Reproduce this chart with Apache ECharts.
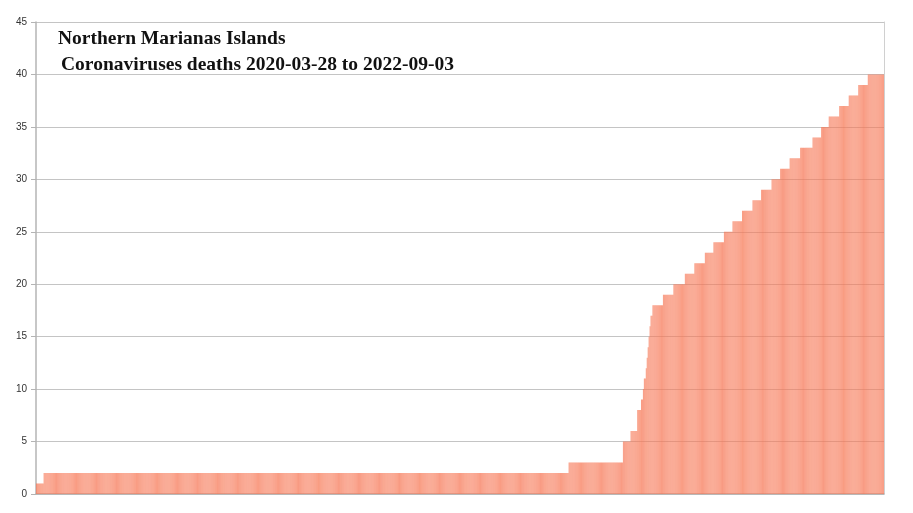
<!DOCTYPE html>
<html>
<head>
<meta charset="utf-8">
<script src="https://cdn.jsdelivr.net/npm/echarts@6/dist/echarts.min.js"></script>
<style>html,body{margin:0;padding:0;background:#fff}#c{width:913px;height:513px}</style>
</head>
<body>
<div id="c"></div>
<script>
// Cumulative deaths: date on which the running total changed, and the new total
const startDate = '2020-03-28';
const endDate = '2022-09-03';
const changeDates = ['2020-03-28','2020-04-05','2021-10-08','2021-12-04','2021-12-12','2021-12-19','2021-12-23','2021-12-25','2021-12-26','2021-12-28','2021-12-29','2021-12-30','2021-12-31','2022-01-01','2022-01-02','2022-01-04','2022-01-15','2022-01-26','2022-02-07','2022-02-17','2022-02-28','2022-03-09','2022-03-20','2022-03-29','2022-04-08','2022-04-19','2022-04-28','2022-05-09','2022-05-18','2022-05-28','2022-06-08','2022-06-21','2022-06-30','2022-07-08','2022-07-19','2022-07-29','2022-08-08','2022-08-18'];
const changeValues = [1,2,3,5,6,8,9,10,11,12,13,14,15,16,17,18,19,20,21,22,23,24,25,26,27,28,29,30,31,32,33,34,35,36,37,38,39,40];
const yTicks = [0,5,10,15,20,25,30,35,40,45];
const titleLines = ['Northern Marianas Islands', 'Coronaviruses deaths 2020-03-28 to 2022-09-03'];

// expand the run-length list into one bar per day
const categories = [];
const values = [];
{
  const d = new Date(startDate + 'T00:00:00Z');
  const end = new Date(endDate + 'T00:00:00Z');
  let k = 0, cur = 0;
  while (d <= end) {
    const s = d.toISOString().slice(0, 10);
    while (k < changeDates.length && changeDates[k] <= s) { cur = changeValues[k]; k++; }
    categories.push(s);
    values.push(cur);
    d.setUTCDate(d.getUTCDate() + 1);
  }
}

const chart = echarts.init(document.getElementById('c'), null, {renderer: 'canvas'});
chart.setOption({
  animation: false,
  backgroundColor: '#ffffff',
  grid: {left: 36, right: 29, top: 22, bottom: 19, containLabel: false},
  graphic: [
    {type: 'text', left: 58, top: 29, z: 100, style: {text: titleLines[0], font: 'bold 19.5px "Liberation Serif", serif', fill: '#111'}},
    {type: 'text', left: 61, top: 55, z: 100, style: {text: titleLines[1], font: 'bold 19.5px "Liberation Serif", serif', fill: '#111'}}
  ],
  xAxis: {
    type: 'category',
    data: categories,
    boundaryGap: true,
    axisLine: {show: true, lineStyle: {color: '#b4b4b4', width: 1.5}},
    axisTick: {show: false},
    axisLabel: {show: false},
    splitLine: {show: false}
  },
  yAxis: [{
    type: 'value',
    min: 0, max: 45, interval: 5,
    axisLine: {show: true, lineStyle: {color: '#b4b4b4', width: 1.5}},
    axisTick: {show: true, length: 5, lineStyle: {color: '#b4b4b4'}},
    axisLabel: {color: '#333', fontSize: 10, fontFamily: 'Liberation Sans, Arial, sans-serif', margin: 9,
      formatter: v => yTicks.includes(v) ? String(v) : ''},
    splitLine: {show: true, lineStyle: {color: '#c4c4c4', width: 1}}
  }, {
    type: 'value', position: 'right',
    min: 0, max: 45, interval: 5,
    axisLine: {show: true, lineStyle: {color: '#d0d0d0', width: 1}},
    axisTick: {show: false}, axisLabel: {show: false}, splitLine: {show: false}
  }],
  series: [{
    type: 'bar',
    data: values,
    yAxisIndex: 0,
    barCategoryGap: '12%',
    itemStyle: {color: 'rgba(246,120,88,0.72)'},
    z: 3
  }]
});
</script>
</body>
</html>
